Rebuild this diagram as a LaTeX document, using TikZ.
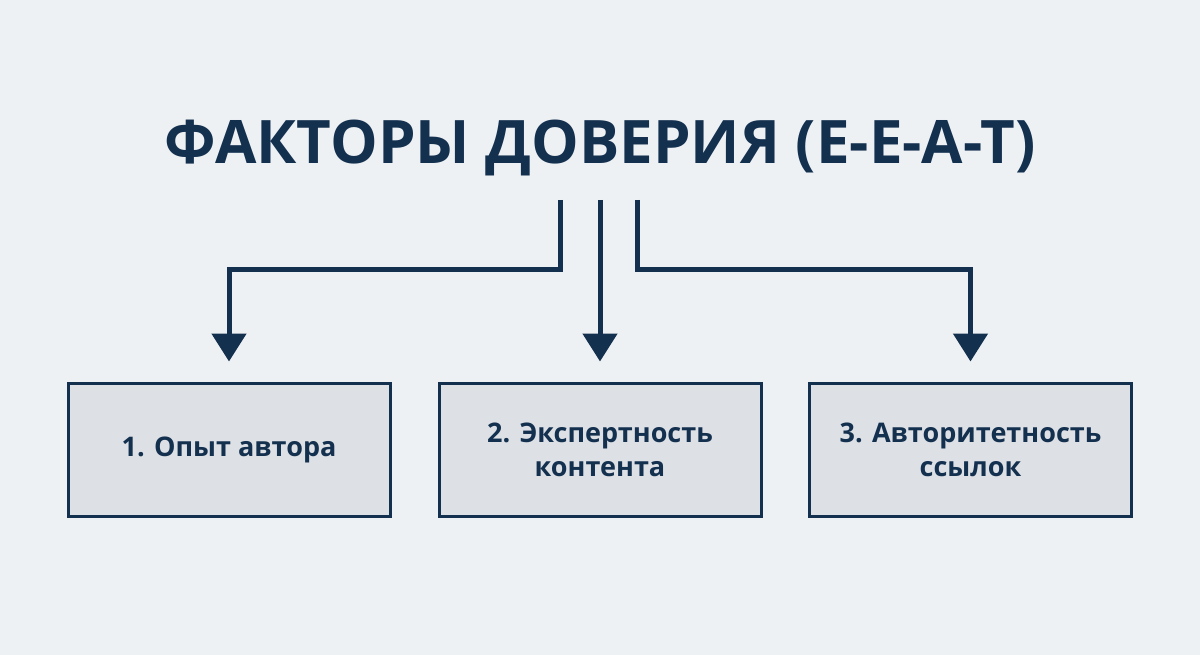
\documentclass[tikz,border=0pt]{standalone}
\usepackage{fontspec}
\setmainfont{Open Sans}
\usetikzlibrary{arrows.meta}
\definecolor{navy}{HTML}{14304F}
\definecolor{bg}{HTML}{EEF1F4}
\definecolor{boxfill}{HTML}{DDE0E5}
\begin{document}
\begin{tikzpicture}[x=1pt,y=-1pt,
  box/.style={draw=navy,line width=3pt,fill=boxfill,minimum width=322pt,minimum height=133pt,inner sep=0pt,align=center,text=navy,font=\fontsize{27}{34}\selectfont\bfseries},
  conn/.style={draw=navy,line width=5pt,-{Triangle[length=28pt,width=34pt]}}]
\fill[bg] (0,0) rectangle (1200,655);
\useasboundingbox (0,0) rectangle (1200,655);
\node[text=navy,font=\fontsize{60}{68}\selectfont\bfseries] (title) at (600,148) {ФАКТОРЫ ДОВЕРИЯ (E-E-A-T)};
\node[box] (b1) at (229,449.5) {1. Опыт автора};
\node[box] (b2) at (600,449.5) {2. Экспертность\\контента};
\node[box] (b3) at (970.5,449.5) {3. Авторитетность\\ссылок};
\coordinate (s1) at (560,200);
\coordinate (s2) at (600,200);
\coordinate (s3) at (637,200);
\draw[conn] (s1) |- (268,270) -| ([yshift=20pt]b1.north);
\draw[conn] (s2) -- ([yshift=20pt]b2.north);
\draw[conn] (s3) |- (900,270) -| ([yshift=20pt]b3.north);
\end{tikzpicture}
\end{document}
